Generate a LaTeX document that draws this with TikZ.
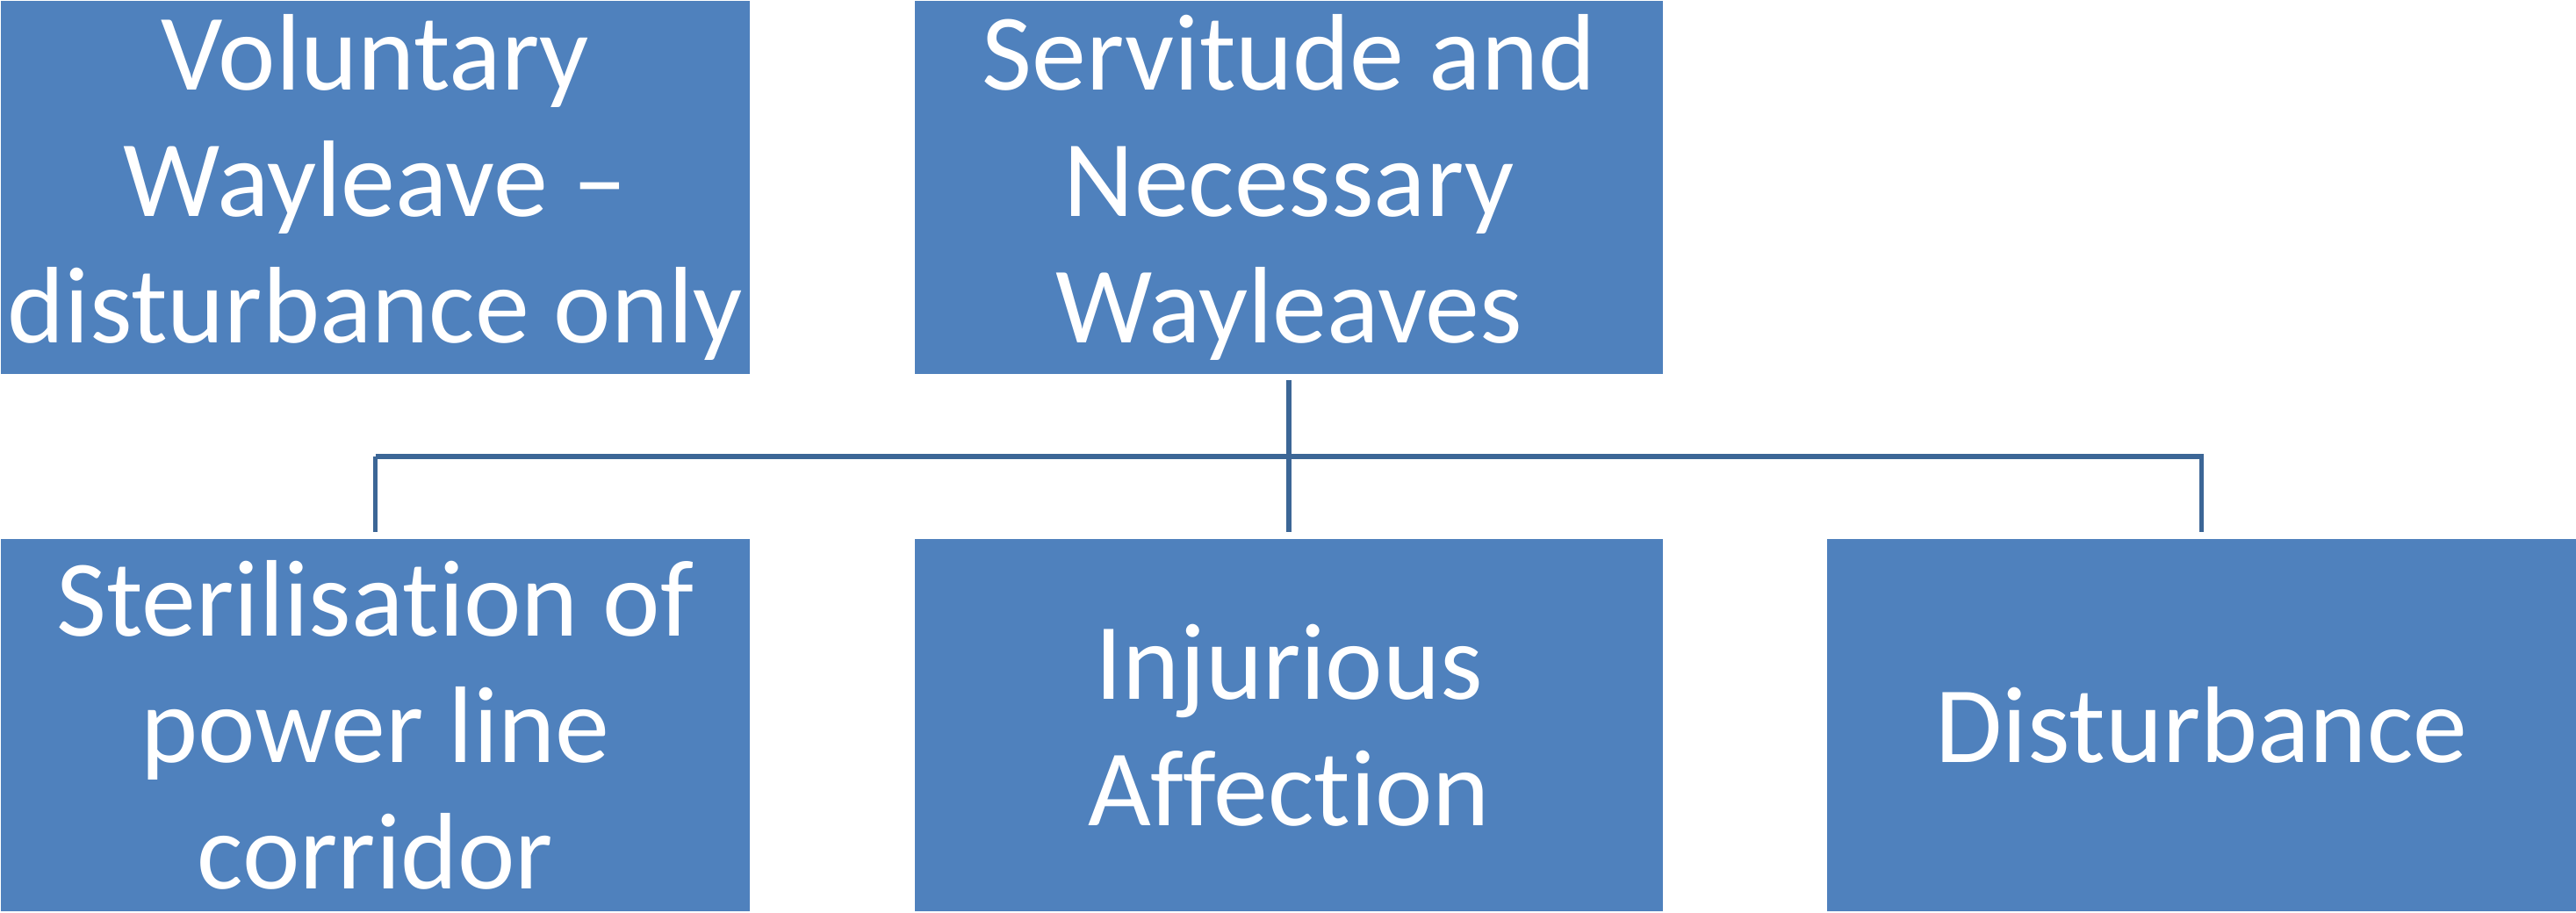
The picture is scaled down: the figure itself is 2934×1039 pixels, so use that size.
\documentclass[tikz,border=0pt]{standalone}
\usepackage{fontspec}
\setmainfont{Carlito}[Ligatures={NoCommon}]
\definecolor{boxblue}{HTML}{4F81BD}
\definecolor{linecol}{HTML}{3C6696}
\begin{document}
\begin{tikzpicture}[x=0.5pt,y=0.5pt,
  box/.style={fill=boxblue, draw=white, line width=0.6pt, minimum width=427pt, minimum height=213pt,
    inner sep=0pt, text=white, align=center, font=\fontsize{62}{72}\selectfont},
  conn/.style={draw=linecol, line width=2.8pt}]
\useasboundingbox (0,0) rectangle (2934,1039);
\node[box] (t1) at (427.5,825.5) {Voluntary\\Wayleave –\\disturbance only};
\node[box] (t2) at (1468,825.5) {Servitude and\\Necessary\\Wayleaves};
\node[box] (b1) at (427.5,213) {Sterilisation of\\power line\\corridor};
\node[box] (b2) at (1468,213) {Injurious\\Affection};
\node[box] (b3) at (2507.5,213) {Disturbance};
\coordinate (j) at (1468,519);
\draw[conn, shorten <=3pt, shorten >=3pt] (t2.south) -- (b2.north);
\draw[conn, shorten >=3pt] (b1.north |- j) -- (b3.north |- j) -- (b3.north);
\draw[conn, shorten >=3pt] (b1.north |- j) -- (b1.north);
\end{tikzpicture}
\end{document}
